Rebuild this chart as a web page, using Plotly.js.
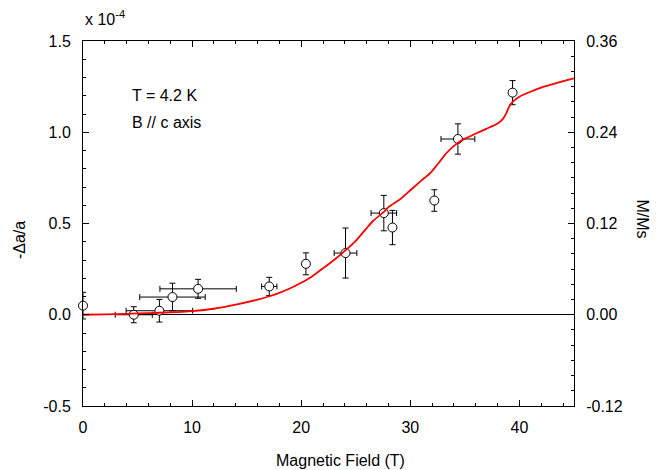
<!DOCTYPE html>
<html>
<head>
<meta charset="utf-8">
<script src="https://cdn.plot.ly/plotly-3.0.1.min.js"></script>
<style>html,body{margin:0;padding:0;background:#fff;}#chart{width:659px;height:470px;}</style>
</head>
<body>
<div id="chart"></div>
<script>
// Measured strain points (-Δa/a, ×10^-4)
const fieldPts  = [0, 4.65, 7.0, 8.2, 10.55, 17.07, 20.43, 24.06, 27.57, 28.36, 32.2, 34.36, 39.37];
const strainPts = [0.05, 0.0, 0.022, 0.097, 0.142, 0.155, 0.279, 0.338, 0.557, 0.478, 0.626, 0.963, 1.217];
const strainErr = [0.073, 0.044, 0.062, 0.076, 0.052, 0.05, 0.06, 0.137, 0.097, 0.094, 0.059, 0.083, 0.066];
const fieldErr  = [0, 1.7, 3.05, 3.0, 3.5, 0.7, 0, 1.04, 1.17, 0, 0, 1.55, 0.27];

// Magnetization curve (M/Ms)
const fieldCurve = [0, 2, 4, 6, 8, 10, 12, 14, 16, 17, 18, 19, 20, 21, 22, 23, 24, 25, 26, 26.6, 27.6, 28, 29, 30, 31, 31.8, 32.3, 32.7, 33.3, 34, 34.5, 35, 36, 37, 38, 38.5, 38.8, 39.1, 39.4, 40, 41, 42, 43, 44, 45];
const magCurve   = [0, 0.0005, 0.0012, 0.0022, 0.0031, 0.0048, 0.0079, 0.0132, 0.0199, 0.024, 0.0288, 0.0348, 0.042, 0.0504, 0.0612, 0.072, 0.084, 0.0972, 0.114, 0.1236, 0.1356, 0.1416, 0.1512, 0.1637, 0.1764, 0.186, 0.1944, 0.2016, 0.2124, 0.222, 0.2275, 0.2316, 0.2383, 0.2448, 0.2515, 0.258, 0.2652, 0.2748, 0.2803, 0.2868, 0.2933, 0.2988, 0.3029, 0.3072, 0.311];

// Tick labels
const leftTickVals  = [-0.5, 0, 0.5, 1.0, 1.5];
const leftTickText  = ['-0.5', '0.0', '0.5', '1.0', '1.5'];
const rightTickVals = [-0.12, 0, 0.12, 0.24, 0.36];
const rightTickText = ['-0.12', '0.00', '0.12', '0.24', '0.36'];

const FONT = 'Liberation Sans, Arial, Helvetica, sans-serif';
const FS = 16;

const points = {
  x: fieldPts, y: strainPts, type: 'scatter', mode: 'markers', cliponaxis: false,
  marker: {symbol: 'circle', size: 9, color: 'white', line: {color: 'black', width: 1}},
  error_y: {type: 'data', array: strainErr, visible: true, color: 'black', thickness: 1, width: 3},
  error_x: {type: 'data', array: fieldErr, visible: true, color: 'black', thickness: 1, width: 3},
  xaxis: 'x', yaxis: 'y', showlegend: false, hoverinfo: 'none'
};
const curve = {
  x: fieldCurve, y: magCurve, type: 'scatter', mode: 'lines',
  line: {color: '#ff0000', width: 1.8, shape: 'spline', smoothing: 0.6},
  xaxis: 'x', yaxis: 'y2', showlegend: false, hoverinfo: 'none'
};

const layout = {
  width: 659, height: 470,
  margin: {l: 83, r: 85, t: 41, b: 64},
  paper_bgcolor: 'white', plot_bgcolor: 'white',
  font: {family: FONT, size: FS, color: 'black'},
  showlegend: false,
  xaxis: {
    range: [0, 45], dtick: 10, tick0: 0,
    ticks: 'inside', ticklen: 6, tickwidth: 1, tickcolor: 'black',
    minor: {dtick: 2, ticks: 'inside', ticklen: 3, tickcolor: 'black'},
    showline: true, linecolor: 'black', linewidth: 1, mirror: 'ticks',
    showgrid: false, zeroline: false,
    tickfont: {family: FONT, size: FS},
    ticklabelstandoff: 7
  },
  yaxis: {
    range: [-0.5, 1.5], tickvals: leftTickVals, ticktext: leftTickText,
    ticks: 'inside', ticklen: 6, tickwidth: 1, tickcolor: 'black',
    minor: {dtick: 0.1, tick0: 0, ticks: 'inside', ticklen: 3, tickcolor: 'black'},
    showline: true, linecolor: 'black', linewidth: 1,
    showgrid: false, zeroline: true, zerolinecolor: 'black', zerolinewidth: 1,
    tickfont: {family: FONT, size: FS},
    ticklabelstandoff: 8
  },
  yaxis2: {
    overlaying: 'y', side: 'right', anchor: 'x',
    range: [-0.12, 0.36], tickvals: rightTickVals, ticktext: rightTickText,
    ticks: 'inside', ticklen: 6, tickwidth: 1, tickcolor: 'black',
    minor: {dtick: 0.02, tick0: 0, ticks: 'inside', ticklen: 3, tickcolor: 'black'},
    showline: true, linecolor: 'black', linewidth: 1,
    showgrid: false, zeroline: false,
    tickfont: {family: FONT, size: FS},
    ticklabelstandoff: 8
  },
  annotations: [
    {text: 'Magnetic Field (T)', xref: 'paper', yref: 'paper', x: 0.525, y: -0.148, xanchor: 'center', yanchor: 'middle', showarrow: false, font: {family: FONT, size: FS}},
    {text: '-Δa/a', xref: 'paper', yref: 'paper', x: -0.128, y: 0.455, xanchor: 'center', yanchor: 'middle', textangle: -90, showarrow: false, font: {family: FONT, size: FS}},
    {text: 'M/Ms', xref: 'paper', yref: 'paper', x: 1.14, y: 0.512, xanchor: 'center', yanchor: 'middle', textangle: 90, showarrow: false, font: {family: FONT, size: FS}},
    {text: 'x 10<sup>-4</sup>', xref: 'paper', yref: 'paper', x: 0.0, y: 1.03, xanchor: 'left', yanchor: 'bottom', showarrow: false, font: {family: FONT, size: FS}},
    {text: 'T = 4.2 K', xref: 'x', yref: 'y', x: 4.33, y: 1.2, xanchor: 'left', yanchor: 'middle', showarrow: false, font: {family: FONT, size: FS}},
    {text: 'B // c axis', xref: 'x', yref: 'y', x: 4.33, y: 1.052, xanchor: 'left', yanchor: 'middle', showarrow: false, font: {family: FONT, size: FS}}
  ]
};

Plotly.newPlot('chart', [points, curve], layout, {staticPlot: true, displayModeBar: false});
</script>
</body>
</html>
